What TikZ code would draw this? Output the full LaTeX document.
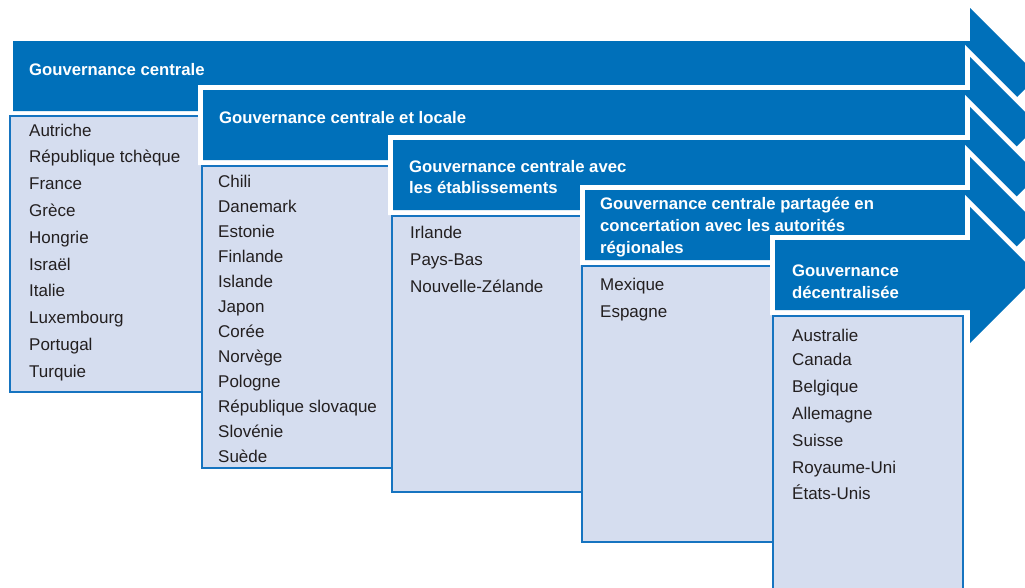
\documentclass[tikz,border=0pt]{standalone}
\usepackage{fontspec}
\setmainfont{Liberation Sans}
\definecolor{arrowblue}{RGB}{0,112,186}
\definecolor{boxfill}{RGB}{213,221,239}
\definecolor{boxline}{RGB}{22,116,192}
\definecolor{textgray}{RGB}{35,31,32}
\begin{document}
\begin{tikzpicture}[x=1pt,y=-1pt,
  govarrow/.style={fill=arrowblue, preaction={draw=white, line width=10pt, line join=miter}},
  listbox/.style={fill=boxfill, draw=boxline, line width=2pt},
  title/.style={anchor=base west, inner sep=0pt, text=white, font=\fontsize{16.7}{22}\selectfont\bfseries},
  item/.style={anchor=base west, inner sep=0pt, text=textgray, font=\fontsize{17}{20}\selectfont}]
\useasboundingbox (0,0) rectangle (1025,587);
\clip (0,0) rectangle (1025,587);
% arrow k: left L, top T
\newcommand{\govarrowpath}[2]{%
  \path[govarrow] (#1,#2) -- (970,#2) -- (970,#2-33) -- (1038,#2+35) -- (970,#2+103) -- (970,#2+70) -- (#1,#2+70) -- cycle;}
\govarrowpath{13}{41}
\draw[listbox] (10,116) rectangle (204,392);
\govarrowpath{203}{90}
\draw[listbox] (202,166) rectangle (394,468);
\govarrowpath{393}{140}
\draw[listbox] (392,216) rectangle (584,492);
\govarrowpath{585}{190}
\draw[listbox] (582,266) rectangle (775,542);
\govarrowpath{775}{240}
\draw[listbox] (773,316) rectangle (963,600);
% titles
\node[title] (t1) at (29,75) {Gouvernance centrale};
\node[title] (t2) at (219,123) {Gouvernance centrale et locale};
\node[title] (t3a) at (409,172) {Gouvernance centrale avec};
\node[title] (t3b) at (409,193) {les établissements};
\node[title] (t4a) at (600,209) {Gouvernance centrale partagée en};
\node[title] (t4b) at (600,231) {concertation avec les autorités};
\node[title] (t4c) at (600,253) {régionales};
\node[title] (t5a) at (792,276) {Gouvernance};
\node[title] (t5b) at (792,298) {décentralisée};
% lists
\foreach \c [count=\i from 0] in {Autriche,République tchèque,France,Grèce,Hongrie,Israël,Italie,Luxembourg,Portugal,Turquie}
  \node[item] (b1-\i) at (29,136+26.8*\i) {\c};
\foreach \c [count=\i from 0] in {Chili,Danemark,Estonie,Finlande,Islande,Japon,Corée,Norvège,Pologne,République slovaque,Slovénie,Suède}
  \node[item] (b2-\i) at (218,187+25*\i) {\c};
\foreach \c [count=\i from 0] in {Irlande,Pays-Bas,Nouvelle-Zélande}
  \node[item] (b3-\i) at (410,238+27*\i) {\c};
\foreach \c [count=\i from 0] in {Mexique,Espagne}
  \node[item] (b4-\i) at (600,290+27*\i) {\c};
\foreach \c/\y [count=\i from 0] in {Australie/341,Canada/365,Belgique/392,Allemagne/419,Suisse/446,Royaume-Uni/473,États-Unis/499}
  \node[item] (b5-\i) at (792,\y) {\c};
\end{tikzpicture}
\end{document}
